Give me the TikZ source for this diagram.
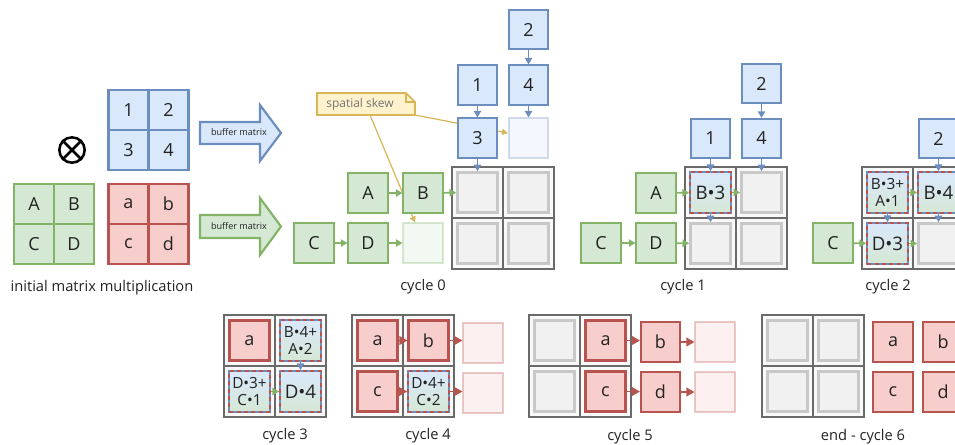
\documentclass[tikz,border=0pt]{standalone}
\usepackage{fontspec}
\setmainfont{Open Sans}
\usetikzlibrary{arrows.meta,calc}
\definecolor{bfill}{HTML}{DAE8FC}
\definecolor{bdraw}{HTML}{6C8EBF}
\definecolor{gfill}{HTML}{D5E8D4}
\definecolor{gdraw}{HTML}{82B366}
\definecolor{rfill}{HTML}{F8CECC}
\definecolor{rdraw}{HTML}{B85450}
\definecolor{yfill}{HTML}{FFF2CC}
\definecolor{ydraw}{HTML}{D6B656}
\definecolor{gridc}{HTML}{6A6A6A}
\definecolor{cellbg}{HTML}{F9F9F9}
\definecolor{innerf}{HTML}{F1F1F1}
\definecolor{innerd}{HTML}{C8C8C8}
\definecolor{txt}{HTML}{222222}
\newcommand\gridframe[2]{\begin{scope}[shift={(#1,#2)}]
 \fill[cellbg] (0,0) rectangle (102,102);
 \draw[gridc, line width=1.9pt] (0,0) rectangle (102,102) (51,0) -- (51,102) (0,51) -- (102,51);
\end{scope}}
\newcommand\matframe[4]{% x y fill draw
 \draw[fill=#3, draw=#4, line width=1.6pt] (#1,#2) rectangle ++(80,80) ($(#1,#2)+(40,0)$) -- ++(0,80) ($(#1,#2)+(0,40)$) -- ++(80,0);}
\begin{document}
\begin{tikzpicture}[x=0.75pt,y=-0.75pt,
 base/.style={minimum size=29.3pt, inner sep=0pt, line width=1.5pt, font=\fontsize{13.5}{15}\selectfont, text=txt},
 bbox/.style={base, fill=bfill, draw=bdraw},
 gbox/.style={base, fill=gfill, draw=gdraw},
 rbox/.style={base, fill=rfill, draw=rdraw},
 mtxt/.style={minimum size=28pt, inner sep=0pt, font=\fontsize{13.5}{15}\selectfont, text=txt},
 faded/.style={opacity=0.3},
 emptycell/.style={minimum size=30pt, inner sep=0pt, fill=innerf, draw=innerd, line width=2pt},
 rcell/.style={rbox, minimum size=29.5pt, line width=2.1pt},
 mix/.style={minimum size=30.5pt, inner sep=0pt, top color=bfill, bottom color=gfill, draw=bdraw, line width=1.6pt,
   postaction={draw=rdraw, line width=1.6pt, dash pattern=on 3pt off 2.5pt},
   align=center, text=txt, font=\fontsize{14}{15}\selectfont},
 mix2/.style={mix, font=\fontsize{11.5}{12.5}\selectfont},
 arr/.style={line width=1.2pt, -{Triangle[length=5pt,width=5.5pt]}},
 garr/.style={arr, draw=gdraw},
 barr/.style={arr, draw=bdraw},
 rarr/.style={arr, draw=rdraw, -{Triangle[length=6pt,width=6.5pt]}},
 yarr/.style={line width=0.9pt, draw=ydraw, -{Triangle[length=4.5pt,width=4.5pt]}},
 lab/.style={font=\fontsize{11}{13}\selectfont, text=txt},
 big/.style={line width=1.6pt}
]
\useasboundingbox (0,0) rectangle (955,444);
\clip (0,0) rectangle (955,444);

% ---------- initial matrices ----------
\matframe{108.5}{90}{bfill}{bdraw}
\matframe{14}{184}{gfill}{gdraw}
\matframe{108.5}{184}{rfill}{rdraw}
\node[mtxt] (m1) at (128.5,110) {1};
\node[mtxt] (m2) at (168.5,110) {2};
\node[mtxt] (m3) at (128.5,150) {3};
\node[mtxt] (m4) at (168.5,150) {4};
\node[mtxt] (mA) at (34,204) {A};
\node[mtxt] (mB) at (74,204) {B};
\node[mtxt] (mC) at (34,244) {C};
\node[mtxt] (mD) at (74,244) {D};
\node[mtxt] (ma) at (128.5,204) {a};
\node[mtxt] (mb) at (168.5,204) {b};
\node[mtxt] (mc) at (128.5,244) {c};
\node[mtxt] (md) at (168.5,244) {d};
\node[circle, draw=black, line width=1.9pt, minimum size=19pt, inner sep=0pt] (ot) at (72,150) {};
\draw[line width=1.9pt] (ot.north west) -- (ot.south east) (ot.north east) -- (ot.south west);
\node[lab] (l0) at (102,288) {initial matrix multiplication};

% big arrows
\draw[big, fill=bfill, draw=bdraw] (200,122) -- (260,122) -- (260,105) -- (281,133) -- (260,161) -- (260,144) -- (200,144) -- cycle;
\node[font=\fontsize{6.8}{7}\selectfont, text=txt] (bt1) at (239,132.5) {buffer matrix};
\draw[big, fill=gfill, draw=gdraw] (200,215) -- (260,215) -- (260,198) -- (281,226.5) -- (260,255) -- (260,238) -- (200,238) -- cycle;
\node[font=\fontsize{6.8}{7}\selectfont, text=txt] (bt2) at (239,226.5) {buffer matrix};

% ---------- cycle 0 ----------
\gridframe{452}{167}
\node[emptycell] (g0a) at (477.5,192.5) {};
\node[emptycell] (g0b) at (528.5,192.5) {};
\node[emptycell] (g0c) at (477.5,243.5) {};
\node[emptycell] (g0d) at (528.5,243.5) {};
\node[gbox,faded] (F0g) at (423,243) {};
\node[bbox,faded] (F0b) at (528.5,138) {};
% note
\draw[line width=1.2pt, fill=yfill, draw=ydraw] (317,93) -- (406,93) -- (415,102) -- (415,115) -- (317,115) -- cycle;
\draw[line width=1.2pt, draw=ydraw] (406,93) -- (406,102) -- (415,102);
\node[font=\fontsize{9}{10}\selectfont, text=black!55] (note) at (360,104) {spatial skew};
\coordinate (ns1) at (370,115);
\coordinate (ns2) at (415,115);
\coordinate (nt1) at (415,222.5);
\coordinate (nt2) at (508,133);
\draw[yarr] (ns1) -- (nt1);
\draw[yarr] (ns2) -- (nt2);
\node[gbox] (A0) at (368,193) {A};
\node[gbox] (B0) at (423,193) {B};
\node[gbox] (C0) at (314,243) {C};
\node[gbox] (D0) at (368,243) {D};
\node[bbox] (n2a) at (528.5,29.5) {2};
\node[bbox] (n1a) at (477.5,85) {1};
\node[bbox] (n4a) at (528.5,85) {4};
\node[bbox] (n3a) at (477.5,138) {3};
\draw[garr] (A0) -- (B0);
\draw[garr] (B0) -- (g0a);
\draw[garr] (C0) -- (D0);
\draw[garr] (D0) -- (F0g);
\draw[barr] (n2a) -- (n4a);
\draw[barr] (n1a) -- (n3a);
\draw[barr] (n4a) -- (F0b);
\draw[barr] (n3a) -- (g0a);
\node[lab] (l1) at (423,287) {cycle 0};

% ---------- cycle 1 ----------
\gridframe{685}{167}
\node[mix] (g1a) at (710.5,192.5) {B•3};
\node[emptycell] (g1b) at (761.5,192.5) {};
\node[emptycell] (g1c) at (710.5,243.5) {};
\node[emptycell] (g1d) at (761.5,243.5) {};
\node[gbox] (A1) at (656,193) {A};
\node[gbox] (C1) at (601,243) {C};
\node[gbox] (D1) at (656,243) {D};
\node[bbox] (n2b) at (761.5,83.5) {2};
\node[bbox] (n1b) at (710.5,138.5) {1};
\node[bbox] (n4b) at (761.5,138.5) {4};
\draw[garr] (A1) -- (g1a);
\draw[garr] (g1a) -- (g1b);
\draw[garr] (C1) -- (D1);
\draw[garr] (D1) -- (g1c);
\draw[barr] (n2b) -- (n4b);
\draw[barr] (n1b) -- (g1a);
\draw[barr] (n4b) -- (g1b);
\draw[barr] (g1a) -- (g1c);
\node[lab] (l2) at (683,287) {cycle 1};

% ---------- cycle 2 ----------
\gridframe{862}{167}
\node[mix2] (g2a) at (887.5,192.5) {B•3+\\A•1};
\node[mix] (g2b) at (938.5,192.5) {B•4};
\node[mix] (g2c) at (887.5,243.5) {D•3};
\node[emptycell] (g2d) at (938.5,243.5) {};
\node[gbox] (C2) at (833,243) {C};
\node[bbox] (n2c) at (938.5,138.5) {2};
\draw[garr] (g2a) -- (g2b);
\draw[garr] (C2) -- (g2c);
\draw[garr] (g2c) -- (g2d);
\draw[barr] (n2c) -- (g2b);
\draw[barr] (g2a) -- (g2c);
\draw[barr] (g2b) -- (g2d);
\node[lab] (l3) at (888,287) {cycle 2};

% ---------- cycle 3 ----------
\gridframe{224}{315}
\node[rcell] (g3a) at (249.5,340.5) {a};
\node[mix2] (g3b) at (300.5,340.5) {B•4+\\A•2};
\node[mix2] (g3c) at (249.5,391.5) {D•3+\\C•1};
\node[mix] (g3d) at (300.5,391.5) {D•4};
\draw[barr] (g3b) -- (g3d);
\draw[garr] (g3c) -- (g3d);
\node[lab] (l4) at (285,436) {cycle 3};

% ---------- cycle 4 ----------
\gridframe{352}{315}
\node[rcell] (g4a) at (377.5,340.5) {a};
\node[rcell] (g4b) at (428.5,340.5) {b};
\node[rcell] (g4c) at (377.5,391.5) {c};
\node[mix2] (g4d) at (428.5,391.5) {D•4+\\C•2};
\node[rbox,faded] (F4a) at (483,343) {};
\node[rbox,faded] (F4b) at (483,393) {};
\draw[rarr] (g4a) -- (g4b);
\draw[rarr] (g4b) -- (g4b -| F4a.west);
\draw[rarr] (g4c) -- (g4d);
\draw[rarr] (g4d) -- (g4d -| F4b.west);
\node[lab] (l5) at (428,436) {cycle 4};

% ---------- cycle 5 ----------
\gridframe{529}{315}
\node[emptycell] (g5a) at (554.5,340.5) {};
\node[rcell] (g5b) at (605.5,340.5) {a};
\node[emptycell] (g5c) at (554.5,391.5) {};
\node[rcell] (g5d) at (605.5,391.5) {c};
\node[rbox] (b5) at (660.5,342) {b};
\node[rbox] (d5) at (660.5,392) {d};
\node[rbox,faded] (F5a) at (715,342) {};
\node[rbox,faded] (F5b) at (715,392) {};
\draw[rarr] (g5b) -- (g5b -| b5.west);
\draw[rarr] (b5) -- (F5a);
\draw[rarr] (g5d) -- (g5d -| d5.west);
\draw[rarr] (d5) -- (F5b);
\node[lab] (l6) at (630,437) {cycle 5};

% ---------- cycle 6 ----------
\gridframe{762}{315}
\node[emptycell] (g6a) at (787.5,340.5) {};
\node[emptycell] (g6b) at (838.5,340.5) {};
\node[emptycell] (g6c) at (787.5,391.5) {};
\node[emptycell] (g6d) at (838.5,391.5) {};
\node[rbox] (a6) at (893,342) {a};
\node[rbox] (b6) at (943,342) {b};
\node[rbox] (c6) at (893,392) {c};
\node[rbox] (d6) at (943,392) {d};
\node[lab] (l7) at (863,437) {end - cycle 6};
\end{tikzpicture}
\end{document}
